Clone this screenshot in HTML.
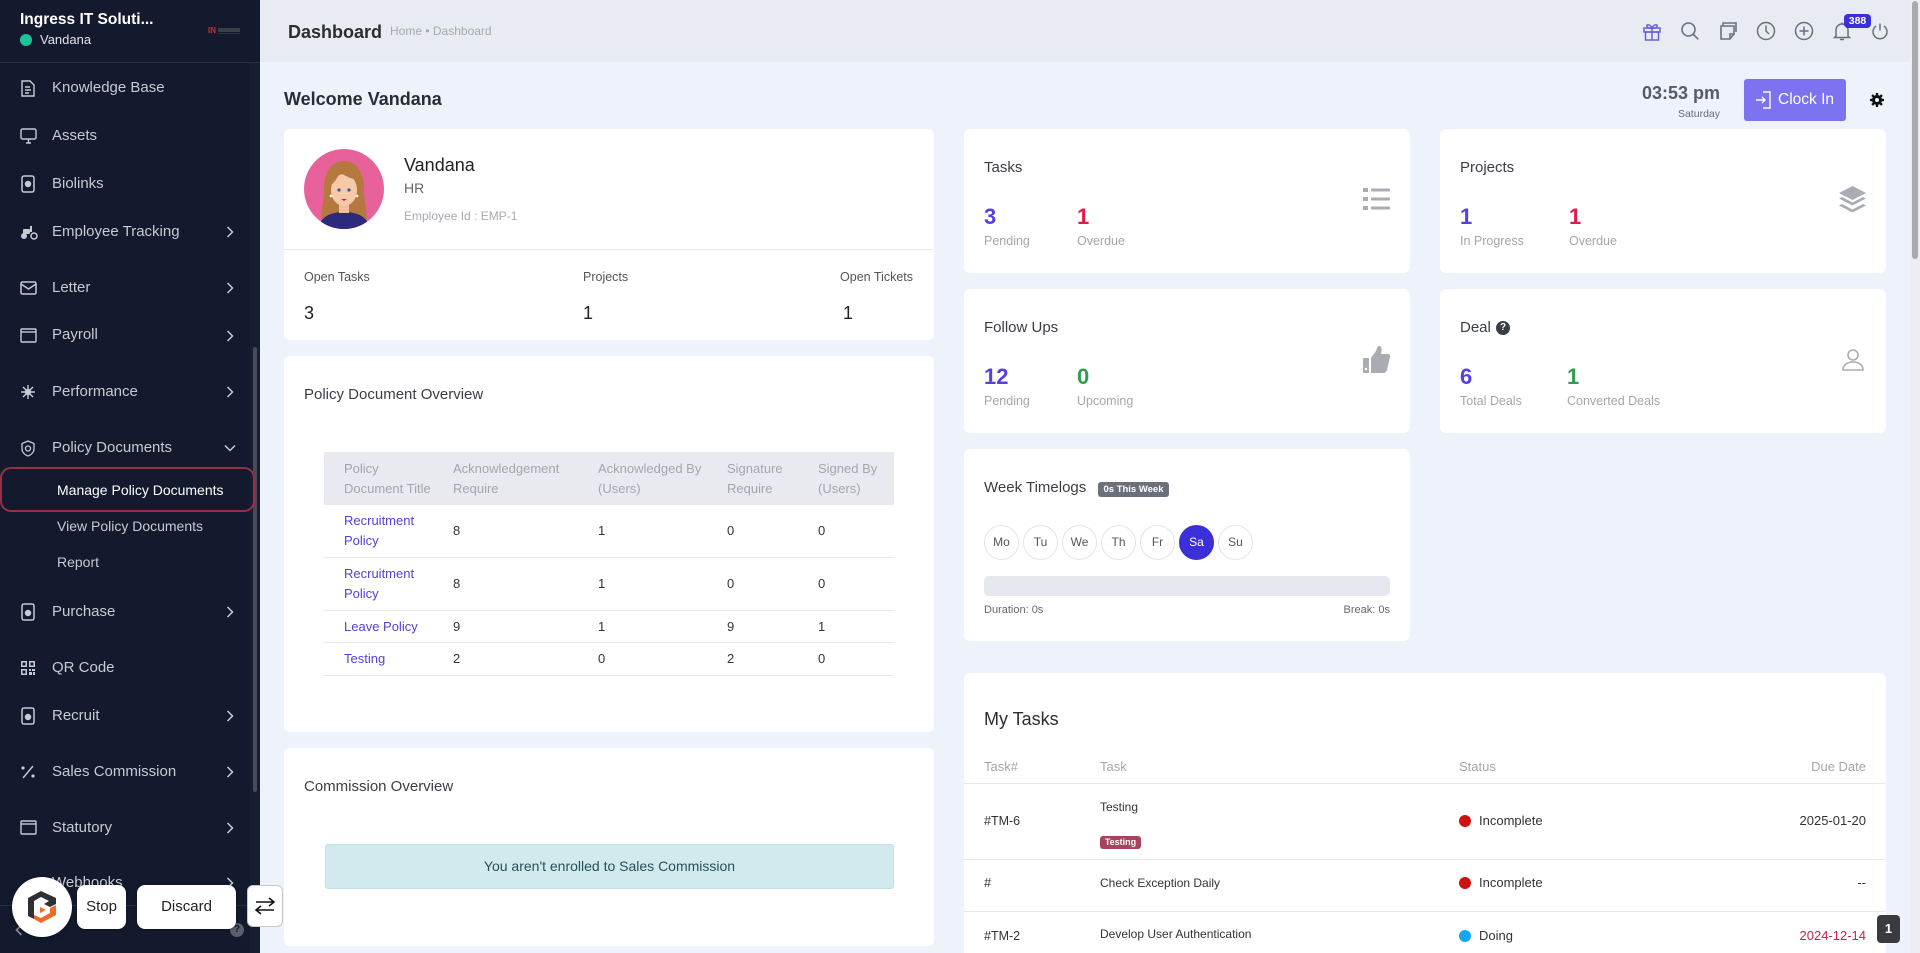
<!DOCTYPE html>
<html><head><meta charset="utf-8">
<style>
*{box-sizing:border-box;margin:0;padding:0}
html,body{width:1920px;height:953px;overflow:hidden}
body{position:relative;background:#eef2fa;font-family:"Liberation Sans",Arial,sans-serif;color:#333}
.a{position:absolute}
.mi{position:absolute;left:52px;font-size:15px;color:#c6cad3;line-height:20px;height:20px;white-space:nowrap}
.ic{position:absolute;left:20px}
.ch{position:absolute;left:226px}
.card{position:absolute;background:#fff;border-radius:6px}
.ttl{position:absolute;font-size:15px;color:#3a3d44;line-height:20px;white-space:nowrap}
.num{position:absolute;font-size:22px;font-weight:bold;line-height:24px}
.lbl{position:absolute;font-size:12.5px;color:#a3a6ad;line-height:16px;white-space:nowrap}
.th{position:absolute;font-size:13px;color:#a3a6ad;line-height:20px}
.td{position:absolute;font-size:13px;color:#333;line-height:20px;white-space:nowrap}
.lk{color:#5541d8}
.day{position:absolute;top:525px;width:35px;height:35px;border:1px solid #e3e5ea;border-radius:50%;font-size:12px;color:#555;text-align:center;line-height:33px}
.hi{position:absolute;top:21px}
</style></head><body>

<!-- SIDEBAR -->
<div class="a" style="left:0;top:0;width:260px;height:953px;background:#131a2d"></div>
<div class="a" style="left:0;top:62px;width:260px;height:1px;background:#283044"></div>
<div class="a" style="left:250px;top:63px;width:10px;height:890px;background:#171e31"></div>
<div class="a" style="left:253px;top:347px;width:4px;height:445px;background:#474c59;border-radius:2px"></div>

<div class="a" style="left:20px;top:9px;font-size:15.5px;font-weight:bold;color:#fff;line-height:22px;white-space:nowrap">Ingress IT Soluti...</div>
<div class="a" style="left:20px;top:34px;width:12px;height:12px;border-radius:50%;background:#1fc39a"></div>
<div class="a" style="left:40px;top:31px;font-size:13px;color:#dfe2e8;line-height:18px">Vandana</div>
<div class="a" style="left:208px;top:26px;width:34px;height:10px">
  <span style="position:absolute;left:0;top:0;font-size:8px;font-weight:bold;color:#e0232b;line-height:9px">IN</span>
  <span style="position:absolute;left:10px;top:2px;width:22px;height:4px;background:#3a3f4a"></span>
  <span style="position:absolute;left:10px;top:7px;width:22px;height:1px;background:#30343e"></span>
</div>

<!-- menu items -->
<svg class="ic" style="top:80px" width="16" height="17" viewBox="0 0 16 17" fill="none" stroke="#c6cad3" stroke-width="1.4"><path d="M2 1h8l4 4v11H2z"/><path d="M5 7h5M5 10h6M5 13h4"/></svg>
<div class="mi" style="top:78px">Knowledge Base</div>

<svg class="ic" style="top:128px" width="17" height="16" viewBox="0 0 17 16" fill="none" stroke="#c6cad3" stroke-width="1.4"><rect x="1" y="1" width="15" height="10" rx="1.5"/><path d="M6 15h5M8.5 11v4"/></svg>
<div class="mi" style="top:126px">Assets</div>

<svg class="ic" style="top:175px" width="16" height="18" viewBox="0 0 16 18" fill="none" stroke="#c6cad3" stroke-width="1.5"><rect x="2" y="1" width="12" height="16" rx="2"/><circle cx="8" cy="9" r="2.5" fill="#c6cad3"/></svg>
<div class="mi" style="top:174px">Biolinks</div>

<svg class="ic" style="top:224px" width="18" height="16" viewBox="0 0 18 16" fill="#c6cad3"><circle cx="4" cy="12" r="3"/><circle cx="14" cy="12" r="3" fill="none" stroke="#c6cad3" stroke-width="1.5"/><rect x="3" y="5" width="7" height="5" rx="1"/><rect x="10" y="2" width="2" height="6"/></svg>
<div class="mi" style="top:222px">Employee Tracking</div>

<svg class="ic" style="top:281px" width="17" height="14" viewBox="0 0 17 14" fill="none" stroke="#c6cad3" stroke-width="1.5"><rect x="1" y="1" width="15" height="12" rx="1.5"/><path d="M1 3l7.5 5L16 3"/></svg>
<div class="mi" style="top:278px">Letter</div>

<svg class="ic" style="top:328px" width="17" height="15" viewBox="0 0 17 15" fill="none" stroke="#c6cad3" stroke-width="1.4"><rect x="1" y="1" width="15" height="13" rx="1"/><path d="M1 4h15"/></svg>
<div class="mi" style="top:325px">Payroll</div>

<svg class="ic" style="top:384px" width="16" height="16" viewBox="0 0 16 16" stroke="#c6cad3" stroke-width="1.4"><path d="M8 1v14M1 8h14M3 3l10 10M13 3L3 13"/><circle cx="8" cy="8" r="2.5" fill="#c6cad3"/></svg>
<div class="mi" style="top:382px">Performance</div>

<svg class="ic" style="top:440px" width="16" height="17" viewBox="0 0 16 17" fill="none" stroke="#c6cad3" stroke-width="1.3"><path d="M8 1l6 2.5v5c0 4-3 6.5-6 7.5-3-1-6-3.5-6-7.5v-5z"/><circle cx="8" cy="8.5" r="2.5"/></svg>
<div class="mi" style="top:438px">Policy Documents</div>

<div class="a" style="left:0;top:467px;width:255px;height:45px;border:2.5px solid #9a2f42;border-radius:11px"></div>
<div class="a" style="left:57px;top:480px;font-size:14px;color:#fff;line-height:20px;white-space:nowrap">Manage Policy Documents</div>
<div class="a" style="left:57px;top:516px;font-size:14px;color:#c6cad3;line-height:20px;white-space:nowrap">View Policy Documents</div>
<div class="a" style="left:57px;top:552px;font-size:14px;color:#c6cad3;line-height:20px">Report</div>

<svg class="ic" style="top:603px" width="16" height="18" viewBox="0 0 16 18" fill="none" stroke="#c6cad3" stroke-width="1.5"><rect x="2" y="1" width="12" height="16" rx="2"/><circle cx="8" cy="10" r="2.5" fill="#c6cad3"/></svg>
<div class="mi" style="top:602px">Purchase</div>

<svg class="ic" style="top:660px" width="16" height="16" viewBox="0 0 16 16" fill="#c6cad3"><path d="M1 1h6v6H1zM2.5 2.5v3h3v-3zM9 1h6v6H9zM10.5 2.5v3h3v-3zM1 9h6v6H1zM2.5 10.5v3h3v-3z" fill-rule="evenodd"/><rect x="9" y="9" width="2" height="2"/><rect x="12" y="9" width="3" height="2"/><rect x="9" y="12" width="3" height="3"/><rect x="13" y="12" width="2" height="3"/></svg>
<div class="mi" style="top:658px">QR Code</div>

<svg class="ic" style="top:707px" width="16" height="18" viewBox="0 0 16 18" fill="none" stroke="#c6cad3" stroke-width="1.5"><rect x="2" y="1" width="12" height="16" rx="2"/><circle cx="8" cy="10" r="2.5" fill="#c6cad3"/></svg>
<div class="mi" style="top:706px">Recruit</div>

<svg class="ic" style="top:764px" width="16" height="16" viewBox="0 0 16 16" fill="#c6cad3"><path d="M13 2L3 14" stroke="#c6cad3" stroke-width="1.4"/><circle cx="3" cy="4" r="1.6"/><circle cx="13" cy="12" r="1.6"/></svg>
<div class="mi" style="top:762px">Sales Commission</div>

<svg class="ic" style="top:820px" width="17" height="15" viewBox="0 0 17 15" fill="none" stroke="#c6cad3" stroke-width="1.4"><rect x="1" y="1" width="15" height="13" rx="1"/><path d="M1 4h15"/></svg>
<div class="mi" style="top:818px">Statutory</div>

<div class="mi" style="top:873px">Webhooks</div>

<!-- chevrons -->
<svg class="ch" style="top:226px" width="8" height="12" viewBox="0 0 8 12" fill="none" stroke="#c6cad3" stroke-width="1.5"><path d="M1.5 1l5 5-5 5"/></svg>
<svg class="ch" style="top:282px" width="8" height="12" viewBox="0 0 8 12" fill="none" stroke="#c6cad3" stroke-width="1.5"><path d="M1.5 1l5 5-5 5"/></svg>
<svg class="ch" style="top:330px" width="8" height="12" viewBox="0 0 8 12" fill="none" stroke="#c6cad3" stroke-width="1.5"><path d="M1.5 1l5 5-5 5"/></svg>
<svg class="ch" style="top:386px" width="8" height="12" viewBox="0 0 8 12" fill="none" stroke="#c6cad3" stroke-width="1.5"><path d="M1.5 1l5 5-5 5"/></svg>
<svg class="ch" style="top:444px;left:224px" width="12" height="8" viewBox="0 0 12 8" fill="none" stroke="#c6cad3" stroke-width="1.5"><path d="M1 1.5l5 5 5-5"/></svg>
<svg class="ch" style="top:606px" width="8" height="12" viewBox="0 0 8 12" fill="none" stroke="#c6cad3" stroke-width="1.5"><path d="M1.5 1l5 5-5 5"/></svg>
<svg class="ch" style="top:710px" width="8" height="12" viewBox="0 0 8 12" fill="none" stroke="#c6cad3" stroke-width="1.5"><path d="M1.5 1l5 5-5 5"/></svg>
<svg class="ch" style="top:766px" width="8" height="12" viewBox="0 0 8 12" fill="none" stroke="#c6cad3" stroke-width="1.5"><path d="M1.5 1l5 5-5 5"/></svg>
<svg class="ch" style="top:822px" width="8" height="12" viewBox="0 0 8 12" fill="none" stroke="#c6cad3" stroke-width="1.5"><path d="M1.5 1l5 5-5 5"/></svg>
<svg class="ch" style="top:877px" width="8" height="12" viewBox="0 0 8 12" fill="none" stroke="#c6cad3" stroke-width="1.5"><path d="M1.5 1l5 5-5 5"/></svg>

<div class="a" style="left:0;top:905px;width:250px;height:1px;background:#283044"></div>
<svg class="a" style="left:15px;top:924px" width="8" height="12" viewBox="0 0 8 12" fill="none" stroke="#8a8f9c" stroke-width="1.6"><path d="M6.5 1l-5 5 5 5"/></svg>
<div class="a" style="left:230px;top:923px;width:14px;height:14px;border-radius:50%;background:#5b606d;color:#131a2d;font-size:10px;font-weight:bold;text-align:center;line-height:14px">?</div>

<!-- TOP HEADER -->
<div class="a" style="left:260px;top:0;width:1650px;height:62px;background:#e8ebf2"></div>
<div class="a" style="left:288px;top:20px;font-size:18px;font-weight:bold;color:#2a2d35;line-height:24px">Dashboard</div>
<div class="a" style="left:390px;top:23px;font-size:12px;color:#a3a8b3;line-height:16px;white-space:nowrap">Home • Dashboard</div>

<!-- header icons -->
<svg class="hi" style="left:1642px" width="20" height="20" viewBox="0 0 20 20" fill="none" stroke="#6b5ed8" stroke-width="1.5"><rect x="2" y="7" width="16" height="4"/><rect x="3.5" y="11" width="13" height="8"/><path d="M10 7v12M10 7c-2-4-6-4-5-1.5S10 7 10 7zM10 7c2-4 6-4 5-1.5S10 7 10 7z"/></svg>
<svg class="hi" style="left:1680px" width="20" height="20" viewBox="0 0 20 20" fill="none" stroke="#6b7080" stroke-width="1.6"><circle cx="8.5" cy="8.5" r="6.5"/><path d="M13.3 13.3l5 5"/></svg>
<svg class="hi" style="left:1718px" width="20" height="20" viewBox="0 0 20 20" fill="none" stroke="#6b7080" stroke-width="1.6"><path d="M3 5h13v8l-4 5H3z"/><path d="M16 13h-4v5"/><path d="M5 5V2h13v9"/></svg>
<svg class="hi" style="left:1756px" width="20" height="20" viewBox="0 0 20 20" fill="none" stroke="#6b7080" stroke-width="1.5"><circle cx="10" cy="10" r="8.5"/><path d="M10 4.5V10l3 3"/></svg>
<svg class="hi" style="left:1794px" width="20" height="20" viewBox="0 0 20 20" fill="none" stroke="#6b7080" stroke-width="1.5"><circle cx="10" cy="10" r="8.5"/><path d="M10 5.5v9M5.5 10h9"/></svg>
<svg class="hi" style="left:1832px" width="20" height="20" viewBox="0 0 20 20" fill="none" stroke="#6b7080" stroke-width="1.5"><path d="M4 15V9a6 6 0 0 1 12 0v6l1.5 1.5h-15z"/><path d="M8 18.5h4M10 1.5v1.5"/></svg>
<svg class="hi" style="left:1870px" width="20" height="20" viewBox="0 0 20 20" fill="none" stroke="#6b7080" stroke-width="1.5"><path d="M10 2.5v7"/><path d="M6 5a7 7 0 1 0 8 0"/></svg>
<div class="a" style="left:1844px;top:14px;width:27px;height:14px;background:#3b2fd9;border-radius:4px;color:#fff;font-size:10.5px;font-weight:bold;text-align:center;line-height:14px">388</div>

<!-- page scrollbar -->
<div class="a" style="left:1910px;top:0;width:10px;height:953px;background:#eceef2"></div>
<div class="a" style="left:1912px;top:1px;width:6px;height:258px;background:#a9aaae;border-radius:3px"></div>

<!-- WELCOME ROW -->
<div class="a" style="left:284px;top:88px;font-size:18px;font-weight:bold;color:#2a2d35;line-height:22px;white-space:nowrap">Welcome Vandana</div>
<div class="a" style="left:1600px;top:81px;width:120px;text-align:right;font-size:18px;font-weight:bold;color:#555b68;line-height:24px">03:53 pm</div>
<div class="a" style="left:1600px;top:107px;width:120px;text-align:right;font-size:10.5px;color:#666b75;line-height:14px">Saturday</div>
<div class="a" style="left:1744px;top:79px;width:102px;height:42px;background:#7b73ef;border-radius:3px"></div>
<svg class="a" style="left:1755px;top:91px" width="16" height="18" viewBox="0 0 16 18" fill="none" stroke="#fff" stroke-width="1.4"><path d="M8 1h7v16H8"/><path d="M1 9h9M7 6l3 3-3 3"/></svg>
<div class="a" style="left:1778px;top:90px;font-size:15.5px;color:#fff;line-height:20px;white-space:nowrap">Clock In</div>
<svg class="a" style="left:1870px;top:93px" width="14" height="14" viewBox="0 0 14 14"><g fill="#111"><circle cx="7" cy="7" r="5"/><rect x="5.8" y="0" width="2.4" height="14"/><rect x="0" y="5.8" width="14" height="2.4"/><rect x="5.8" y="0" width="2.4" height="14" transform="rotate(45 7 7)"/><rect x="5.8" y="0" width="2.4" height="14" transform="rotate(-45 7 7)"/></g><circle cx="7" cy="7" r="2" fill="#eef2fa"/></svg>

<!-- PROFILE CARD -->
<div class="card" style="left:284px;top:129px;width:650px;height:211px"></div>
<svg class="a" style="left:304px;top:149px" width="80" height="80" viewBox="0 0 80 80">
  <defs><clipPath id="cp"><circle cx="40" cy="40" r="40"/></clipPath></defs>
  <circle cx="40" cy="40" r="40" fill="#e9619a"/>
  <g clip-path="url(#cp)">
    <path d="M20 40c0-18 8-28 20-28s20 10 20 28c0 14 4 24 2 32H18c-2-8 2-18 2-32z" fill="#b5793f"/>
    <path d="M14 80c2-12 12-17 26-17s24 5 26 17z" fill="#2c2a7c"/>
    <rect x="35" y="52" width="10" height="12" fill="#f0bf9c"/>
    <ellipse cx="40" cy="41" rx="13" ry="16" fill="#f6caa8"/>
    <path d="M27 36c2-10 8-15 15-15s11 4 12 10c-6-1-14-4-18-8-2 5-5 10-9 13z" fill="#b5793f"/>
    <circle cx="35" cy="41" r="1.6" fill="#3a5a8a"/><circle cx="45" cy="41" r="1.6" fill="#3a5a8a"/>
    <path d="M37 50h6l-3 2z" fill="#d41f2c"/>
    <circle cx="27" cy="47" r="1.4" fill="#fff"/><circle cx="53" cy="47" r="1.4" fill="#fff"/>
  </g>
</svg>
<div class="a" style="left:404px;top:153px;font-size:18px;color:#222;line-height:24px">Vandana</div>
<div class="a" style="left:404px;top:179px;font-size:14px;color:#666;line-height:18px">HR</div>
<div class="a" style="left:404px;top:209px;font-size:12px;color:#a8abb2;line-height:15px;white-space:nowrap">Employee Id : EMP-1</div>
<div class="a" style="left:284px;top:249px;width:650px;height:1px;background:#e9ebef"></div>
<div class="a" style="left:304px;top:269px;font-size:12.5px;color:#555;line-height:16px">Open Tasks</div>
<div class="a" style="left:583px;top:269px;font-size:12.5px;color:#555;line-height:16px">Projects</div>
<div class="a" style="left:813px;top:269px;width:100px;text-align:right;font-size:12.5px;color:#555;line-height:16px">Open Tickets</div>
<div class="a" style="left:304px;top:302px;font-size:18px;color:#222;line-height:22px">3</div>
<div class="a" style="left:583px;top:302px;font-size:18px;color:#222;line-height:22px">1</div>
<div class="a" style="left:843px;top:302px;font-size:18px;color:#222;line-height:22px">1</div>

<!-- POLICY CARD -->
<div class="card" style="left:284px;top:356px;width:650px;height:376px"></div>
<div class="ttl" style="left:304px;top:385px">Policy Document Overview</div>
<div class="a" style="left:324px;top:452px;width:570px;height:53px;background:#e8eaef"></div>
<div class="th" style="left:344px;top:459px">Policy<br>Document Title</div>
<div class="th" style="left:453px;top:459px;white-space:nowrap">Acknowledgement<br>Require</div>
<div class="th" style="left:598px;top:459px;white-space:nowrap">Acknowledged By<br>(Users)</div>
<div class="th" style="left:727px;top:459px;white-space:nowrap">Signature<br>Require</div>
<div class="th" style="left:818px;top:459px;white-space:nowrap">Signed By<br>(Users)</div>

<div class="a" style="left:324px;top:557px;width:570px;height:1px;background:#e6e8ec"></div>
<div class="a" style="left:324px;top:610px;width:570px;height:1px;background:#e6e8ec"></div>
<div class="a" style="left:324px;top:642px;width:570px;height:1px;background:#e6e8ec"></div>
<div class="a" style="left:324px;top:675px;width:570px;height:1px;background:#e6e8ec"></div>

<div class="td lk" style="left:344px;top:511px">Recruitment<br>Policy</div>
<div class="td" style="left:453px;top:521px">8</div><div class="td" style="left:598px;top:521px">1</div><div class="td" style="left:727px;top:521px">0</div><div class="td" style="left:818px;top:521px">0</div>
<div class="td lk" style="left:344px;top:564px">Recruitment<br>Policy</div>
<div class="td" style="left:453px;top:574px">8</div><div class="td" style="left:598px;top:574px">1</div><div class="td" style="left:727px;top:574px">0</div><div class="td" style="left:818px;top:574px">0</div>
<div class="td lk" style="left:344px;top:617px">Leave Policy</div>
<div class="td" style="left:453px;top:617px">9</div><div class="td" style="left:598px;top:617px">1</div><div class="td" style="left:727px;top:617px">9</div><div class="td" style="left:818px;top:617px">1</div>
<div class="td lk" style="left:344px;top:649px">Testing</div>
<div class="td" style="left:453px;top:649px">2</div><div class="td" style="left:598px;top:649px">0</div><div class="td" style="left:727px;top:649px">2</div><div class="td" style="left:818px;top:649px">0</div>

<!-- COMMISSION CARD -->
<div class="card" style="left:284px;top:748px;width:650px;height:198px"></div>
<div class="ttl" style="left:304px;top:777px">Commission Overview</div>
<div class="a" style="left:325px;top:844px;width:569px;height:45px;background:#d0eaee;border:1px solid #bfe2e8;border-radius:3px;text-align:center;font-size:14px;color:#2a4f5a;line-height:43px">You aren't enrolled to Sales Commission</div>

<!-- TASKS CARD -->
<div class="card" style="left:964px;top:129px;width:446px;height:144px"></div>
<div class="ttl" style="left:984px;top:158px">Tasks</div>
<div class="num" style="left:984px;top:205px;color:#5a3fe0">3</div>
<div class="num" style="left:1077px;top:205px;color:#de1c4c">1</div>
<div class="lbl" style="left:984px;top:233px">Pending</div>
<div class="lbl" style="left:1077px;top:233px">Overdue</div>
<svg class="a" style="left:1363px;top:188px" width="27" height="22" viewBox="0 0 27 22" fill="#a9acb3"><rect x="0" y="0" width="5" height="4"/><rect x="8" y="0.5" width="19" height="3" rx="1"/><rect x="0" y="9" width="5" height="4"/><rect x="8" y="9.5" width="19" height="3" rx="1"/><rect x="0" y="18" width="5" height="4"/><rect x="8" y="18.5" width="19" height="3" rx="1"/></svg>

<!-- PROJECTS CARD -->
<div class="card" style="left:1440px;top:129px;width:446px;height:144px"></div>
<div class="ttl" style="left:1460px;top:158px">Projects</div>
<div class="num" style="left:1460px;top:205px;color:#5a3fe0">1</div>
<div class="num" style="left:1569px;top:205px;color:#de1c4c">1</div>
<div class="lbl" style="left:1460px;top:233px">In Progress</div>
<div class="lbl" style="left:1569px;top:233px">Overdue</div>
<svg class="a" style="left:1839px;top:186px" width="27" height="27" viewBox="0 0 27 27" fill="#a9acb3"><path d="M13.5 0L27 7l-13.5 7L0 7z"/><path d="M0 12.5l3-1.5 10.5 5.5L24 11l3 1.5-13.5 7z"/><path d="M0 19.5l3-1.5 10.5 5.5L24 18l3 1.5-13.5 7z"/></svg>

<!-- FOLLOW UPS -->
<div class="card" style="left:964px;top:289px;width:446px;height:144px"></div>
<div class="ttl" style="left:984px;top:318px">Follow Ups</div>
<div class="num" style="left:984px;top:365px;color:#5a3fe0">12</div>
<div class="num" style="left:1077px;top:365px;color:#2e9e4e">0</div>
<div class="lbl" style="left:984px;top:393px">Pending</div>
<div class="lbl" style="left:1077px;top:393px">Upcoming</div>
<svg class="a" style="left:1363px;top:346px" width="27" height="27" viewBox="0 0 27 27" fill="#a9acb3"><rect x="0" y="12" width="6" height="15" rx="1"/><path d="M8 12l5-7c1-2 1-5 3-5 3 0 3 4 2 8h7c2 0 2.5 2 2 3l-3 13c-.5 2-2 3-3.5 3H8z"/><circle cx="3" cy="23" r="1.2" fill="#fff"/></svg>

<!-- DEAL -->
<div class="card" style="left:1440px;top:289px;width:446px;height:144px"></div>
<div class="ttl" style="left:1460px;top:318px">Deal</div>
<div class="a" style="left:1496px;top:321px;width:14px;height:14px;border-radius:50%;background:#3a3d44;color:#fff;font-size:10px;font-weight:bold;text-align:center;line-height:14px">?</div>
<div class="num" style="left:1460px;top:365px;color:#5a3fe0">6</div>
<div class="num" style="left:1567px;top:365px;color:#2e9e4e">1</div>
<div class="lbl" style="left:1460px;top:393px">Total Deals</div>
<div class="lbl" style="left:1567px;top:393px">Converted Deals</div>
<svg class="a" style="left:1842px;top:349px" width="22" height="22" viewBox="0 0 22 22" fill="none" stroke="#a9acb3" stroke-width="1.6"><circle cx="11" cy="6" r="5"/><path d="M1 21c0-5 4-8 10-8s10 3 10 8z"/></svg>

<!-- WEEK TIMELOGS -->
<div class="card" style="left:964px;top:449px;width:446px;height:192px"></div>
<div class="ttl" style="left:984px;top:478px">Week Timelogs</div>
<div class="a" style="left:1098px;top:482px;width:71px;height:15px;background:#6b717b;border-radius:3px;color:#fff;font-size:9.5px;font-weight:bold;text-align:center;line-height:15px;white-space:nowrap">0s This Week</div>
<div class="day" style="left:984px">Mo</div>
<div class="day" style="left:1023px">Tu</div>
<div class="day" style="left:1062px">We</div>
<div class="day" style="left:1101px">Th</div>
<div class="day" style="left:1140px">Fr</div>
<div class="day" style="left:1179px;background:#3a2fd9;border-color:#3a2fd9;color:#fff">Sa</div>
<div class="day" style="left:1218px">Su</div>
<div class="a" style="left:984px;top:576px;width:406px;height:20px;background:#e5e8ef;border-radius:5px"></div>
<div class="a" style="left:984px;top:603px;font-size:11px;color:#666;line-height:14px">Duration: 0s</div>
<div class="a" style="left:1290px;top:603px;width:100px;text-align:right;font-size:11px;color:#666;line-height:14px">Break: 0s</div>

<!-- MY TASKS -->
<div class="card" style="left:964px;top:673px;width:922px;height:290px"></div>
<div class="a" style="left:984px;top:707px;font-size:18px;color:#2a2d35;line-height:24px">My Tasks</div>
<div class="th" style="left:984px;top:757px">Task#</div>
<div class="th" style="left:1100px;top:757px">Task</div>
<div class="th" style="left:1459px;top:757px">Status</div>
<div class="th" style="left:1766px;top:757px;width:100px;text-align:right">Due Date</div>
<div class="a" style="left:964px;top:783px;width:922px;height:1px;background:#e6e8ec"></div>
<div class="a" style="left:964px;top:859px;width:922px;height:1px;background:#e6e8ec"></div>
<div class="a" style="left:964px;top:911px;width:922px;height:1px;background:#e6e8ec"></div>

<div class="td" style="left:984px;top:811px;font-size:12.5px">#TM-6</div>
<div class="td" style="left:1100px;top:797px;font-size:12px">Testing</div>
<div class="a" style="left:1100px;top:836px;width:41px;height:13px;background:#a8435e;border-radius:3px;color:#fff;font-size:9px;font-weight:bold;text-align:center;line-height:13px">Testing</div>
<div class="a" style="left:1459px;top:815px;width:12px;height:12px;border-radius:50%;background:#cc1111"></div>
<div class="td" style="left:1479px;top:811px">Incomplete</div>
<div class="td" style="left:1766px;top:811px;width:100px;text-align:right">2025-01-20</div>

<div class="td" style="left:984px;top:873px">#</div>
<div class="td" style="left:1100px;top:873px;font-size:12px">Check Exception Daily</div>
<div class="a" style="left:1459px;top:877px;width:12px;height:12px;border-radius:50%;background:#cc1111"></div>
<div class="td" style="left:1479px;top:873px">Incomplete</div>
<div class="td" style="left:1766px;top:873px;width:100px;text-align:right">--</div>

<div class="td" style="left:984px;top:926px;font-size:12.5px">#TM-2</div>
<div class="td" style="left:1100px;top:924px;font-size:12px">Develop User Authentication</div>
<div class="a" style="left:1459px;top:930px;width:12px;height:12px;border-radius:50%;background:#14a8f0"></div>
<div class="td" style="left:1479px;top:926px">Doing</div>
<div class="td" style="left:1766px;top:926px;width:100px;text-align:right;color:#c8204d">2024-12-14</div>

<div class="a" style="left:1877px;top:915px;width:23px;height:28px;background:#3a3b3f;border-radius:4px;color:#fff;font-size:13px;font-weight:bold;text-align:center;line-height:28px">1</div>

<!-- OVERLAY BUTTONS -->
<div class="a" style="left:12px;top:877px;width:60px;height:60px;border-radius:50%;background:#fff;box-shadow:0 1px 4px rgba(0,0,0,.35)"></div>
<svg class="a" style="left:24px;top:889px" width="36" height="36" viewBox="0 0 36 36">
  <path d="M17 2L4 9v18l6 3V12l7-4 8 4-5 3 6 3 6-3V9z" fill="#2e3033"/>
  <path d="M10 30l7 4 15-8V16l-6 3v5l-9 5-7-3z" fill="#ef6a25"/>
  <path d="M16 18l6 3-6 3z" fill="#ef6a25"/>
</svg>
<div class="a" style="left:77px;top:885px;width:49px;height:44px;background:#fff;border-radius:8px;box-shadow:0 1px 3px rgba(0,0,0,.3);text-align:center;font-size:15px;color:#222;line-height:44px">Stop</div>
<div class="a" style="left:137px;top:885px;width:99px;height:44px;background:#fff;border-radius:8px;box-shadow:0 1px 3px rgba(0,0,0,.3);text-align:center;font-size:15px;color:#222;line-height:44px">Discard</div>
<div class="a" style="left:247px;top:885px;width:36px;height:42px;background:#fff;border:1px solid #c4c6cc;border-radius:6px"></div>
<svg class="a" style="left:254px;top:897px" width="22" height="18" viewBox="0 0 22 18" fill="none" stroke="#111" stroke-width="1.6"><path d="M2 5h18M15 1l5 4-5 4"/><path d="M20 13H2M7 9l-5 4 5 4"/></svg>

</body></html>
